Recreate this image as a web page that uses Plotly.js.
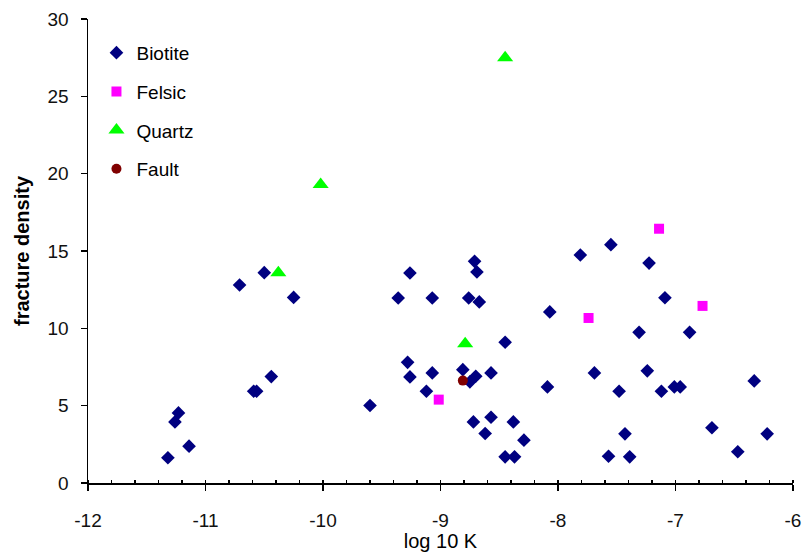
<!DOCTYPE html>
<html>
<head>
<meta charset="utf-8">
<script src="https://cdn.plot.ly/plotly-3.0.1.min.js"></script>
<style>
html,body{margin:0;padding:0;background:#fff;}
#chart{width:804px;height:552px;}
</style>
</head>
<body>
<div id="chart"></div>
<script>
// ---- data ----
const biotiteX = [-10.71, -10.50, -10.25, -10.44, -10.59, -10.565, -11.23, -11.26, -11.14, -11.32,
  -8.71, -8.69, -9.26, -9.36, -9.07, -8.76, -8.67, -8.07, -8.45, -9.28, -9.26, -9.07, -8.81, -8.70, -8.75,
  -8.57, -9.12, -9.60, -8.09, -8.72, -8.57, -8.38, -8.62, -8.29, -8.45, -8.37,
  -7.55, -7.81, -7.225, -7.09, -7.31, -6.88, -7.69, -7.24, -7.48, -7.12, -7.01, -6.96, -6.33, -6.69,
  -6.22, -7.43, -6.47, -7.57, -7.39];
const biotiteY = [12.8, 13.6, 12.0, 6.88, 5.93, 5.93, 4.53, 3.95, 2.38, 1.63,
  14.33, 13.64, 13.58, 11.96, 11.96, 11.96, 11.71, 11.06, 9.10, 7.80, 6.86, 7.12, 7.33, 6.90, 6.54,
  7.12, 5.93, 5.01, 6.21, 3.95, 4.25, 3.95, 3.20, 2.77, 1.69, 1.69,
  15.41, 14.74, 14.22, 11.98, 9.74, 9.74, 7.12, 7.25, 5.93, 5.93, 6.21, 6.21, 6.60, 3.57,
  3.18, 3.18, 2.02, 1.73, 1.69];
const felsicX = [-7.14, -6.77, -7.74, -9.015];
const felsicY = [16.44, 11.45, 10.67, 5.39];
const quartzX = [-8.45, -10.02, -10.38, -8.79];
const quartzY = [27.5, 19.3, 13.6, 9.0];
const faultX = [-8.81];
const faultY = [6.62];

const seriesNames = ['Biotite', 'Felsic', 'Quartz', 'Fault'];
const xTickVals = [-12, -11, -10, -9, -8, -7, -6];
const xTickText = ['-12', '-11', '-10', '-9', '-8', '-7', '-6'];
const yTickVals = [0, 5, 10, 15, 20, 25, 30];
const yTickText = ['0', '5', '10', '15', '20', '25', '30'];

const FONT = '"Liberation Sans", Arial, Helvetica, sans-serif';

const traces = [
  {x: biotiteX, y: biotiteY, name: seriesNames[0], legendgroup: 'g1', type: 'scatter', mode: 'markers',
   marker: {symbol: 'diamond', size: 10.5, color: '#000080', line: {width: 0}}},
  {x: felsicX, y: felsicY, name: seriesNames[1], legendgroup: 'g2', type: 'scatter', mode: 'markers',
   marker: {symbol: 'square', size: 10, color: '#FF00FF', line: {width: 0}}},
  {x: quartzX, y: quartzY, name: seriesNames[2], legendgroup: 'g3', type: 'scatter', mode: 'markers',
   marker: {symbol: 'triangle-up', size: 14, color: '#00FF00', line: {width: 0}}},
  {x: faultX, y: faultY, name: seriesNames[3], legendgroup: 'g4', type: 'scatter', mode: 'markers',
   marker: {symbol: 'circle', size: 10, color: '#800000', line: {width: 0}}}
];

const layout = {
  width: 804, height: 552,
  margin: {l: 88, r: 11, t: 19, b: 69, pad: 0},
  paper_bgcolor: '#ffffff', plot_bgcolor: '#ffffff',
  font: {family: FONT, size: 19, color: '#000'},
  showlegend: true,
  legend: {x: 0.012, y: 0.968, xanchor: 'left', yanchor: 'top', bgcolor: 'rgba(0,0,0,0)',
           borderwidth: 0, font: {family: FONT, size: 19, color: '#000'}, tracegroupgap: 11,
           itemclick: false},
  xaxis: {
    range: [-12, -6], tickmode: 'array', tickvals: xTickVals, ticktext: xTickText,
    ticks: 'outside', ticklen: 6, tickwidth: 1.5, tickcolor: '#000',
    showline: true, linecolor: '#000', linewidth: 1.5, mirror: false,
    showgrid: false, zeroline: false, ticklabelstandoff: 14,
    tickfont: {family: FONT, size: 19, color: '#111'},
    minor: {dtick: 0.2, tick0: -12, ticks: 'inside', ticklen: 3, tickwidth: 1.5, tickcolor: '#000', showgrid: false},
    title: {text: 'log 10 K', font: {family: FONT, size: 20, color: '#000'}, standoff: 8}
  },
  yaxis: {
    range: [0, 30], tickmode: 'array', tickvals: yTickVals, ticktext: yTickText,
    ticks: 'outside', ticklen: 6, tickwidth: 1.5, tickcolor: '#000',
    showline: true, linecolor: '#000', linewidth: 1.5,
    showgrid: false, zeroline: false, ticklabelstandoff: 8,
    tickfont: {family: FONT, size: 19, color: '#111'},
    title: {text: 'fracture density', font: {family: FONT, size: 20, color: '#000', weight: 'bold'}, standoff: 12}
  }
};

Plotly.newPlot('chart', traces, layout, {staticPlot: true, displayModeBar: false});
</script>
</body>
</html>
